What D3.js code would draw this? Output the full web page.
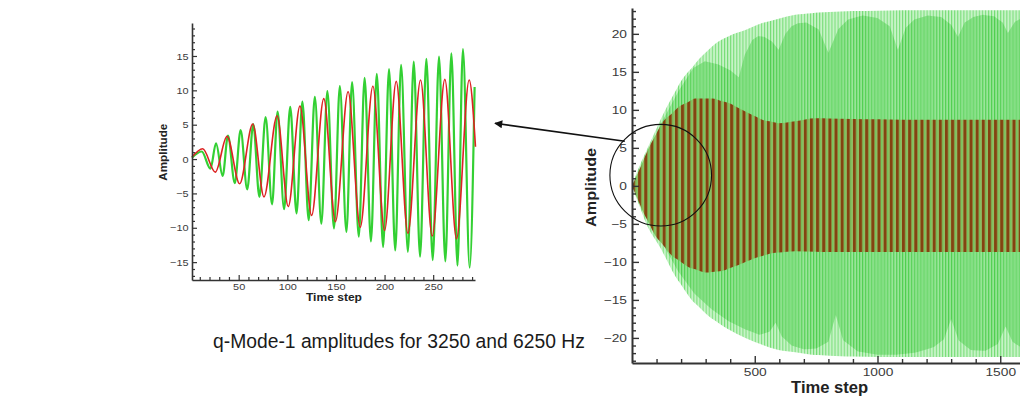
<!DOCTYPE html>
<html>
<head>
<meta charset="utf-8">
<script src="https://cdn.jsdelivr.net/npm/d3@7"></script>
<style>
  html, body { margin: 0; padding: 0; background: #fff; }
  svg { display: block; font-family: Arial, "Liberation Sans", Helvetica, sans-serif; }
</style>
</head>
<body>
<svg id="fig" width="1020" height="402"></svg>
<script>
// ---------- zoomed view: first 293 time steps (turning points of each mode) ----------
const zoomRedT   = [2, 13, 26, 38, 51, 64.5, 76, 89.5, 101, 113, 125, 137.5, 149.5, 162.5, 175, 188, 200, 212, 224, 237, 249, 262, 274, 287, 293.5];
const zoomRedV   = [0.3, 1.5, -1.9, 3.3, -3.6, 5.1, -5.5, 6.3, -6.9, 7.7, -8.2, 8.8, -9.1, 9.8, -9.9, 10.6, -10.4, 11.3, -10.8, 11.5, -11.2, 11.6, -11.6, 11.5, 1.8];
const zoomGreenT = [2, 12, 21, 26.7, 33.5, 39, 46, 52, 58.8, 65, 71.3, 77.7, 84.3, 90, 96.7, 103, 109.5, 115.5, 122, 128.3, 135, 141.2, 148, 154, 160.8, 166.6, 173.5, 179.5, 186, 192, 198.5, 204.6, 211, 217, 224, 230, 236.5, 243, 249.5, 256, 262.5, 268.7, 275, 280.6, 287.5, 292.6];
const zoomGreenV = [0.2, 1.1, -1.4, 2.3, -2.45, 3.4, -3.5, 4.2, -4.4, 5.1, -5.5, 6.1, -6.6, 6.9, -7.3, 7.6, -7.9, 8.35, -8.9, 9.05, -9.4, 9.9, -10.1, 10.6, -10.6, 11.2, -11.3, 11.8, -12.0, 12.4, -12.8, 13.1, -13.3, 13.7, -13.5, 14.2, -14.2, 14.6, -14.7, 14.9, -14.9, 15.4, -15.5, 16.0, -15.8, 10.5];
const zoomXTicks = [50, 100, 150, 200, 250];
const zoomYTicks = [-15, -10, -5, 0, 5, 10, 15];

// ---------- full run: envelopes of the two modes ----------
// 6250 Hz mode (green): outer reach of the peaks
const greenTopT = [0, 41, 122, 191, 258, 325, 394, 462, 528, 597, 665, 760, 900, 1100, 1300, 1600];
const greenTopV = [0, 3.4, 9.1, 13.3, 16.1, 18.3, 19.7, 20.5, 21.4, 22.0, 22.5, 22.8, 23.0, 23.1, 23.1, 23.1];
const greenBotT = [0, 52, 120, 187, 255, 323, 394, 462, 530, 597, 732, 850, 1000, 1200, 1400, 1600];
const greenBotV = [0, -4.5, -8.4, -12.4, -15.4, -17.4, -18.9, -20.0, -20.9, -21.6, -22.2, -22.4, -22.5, -22.5, -22.5, -22.5];
// 6250 Hz mode: reach of the dense (every-cycle) peaks, showing the beating
const greenBeatTopT = [0, 60, 120, 190, 250, 297, 350, 400, 435, 460, 490, 513, 540, 570, 597, 625, 650, 676, 710, 760, 800, 840, 880, 940, 1000, 1050, 1083, 1115, 1150, 1205, 1260, 1300, 1328, 1355, 1390, 1430, 1475, 1510, 1531, 1560, 1600];
const greenBeatTopV = [0, 4, 8.3, 12.5, 15.5, 16.4, 16.0, 15.2, 14.3, 17.3, 19.2, 19.7, 19.6, 19.0, 17.9, 20.0, 21.0, 21.4, 21.5, 20.6, 17.5, 20.6, 21.9, 22.4, 22.1, 21.0, 17.9, 20.8, 21.9, 22.4, 22.2, 21.2, 19.6, 21.5, 22.2, 22.5, 22.3, 21.5, 20.1, 21.6, 22.3];
const greenBeatBotT = [0, 52, 120, 187, 255, 323, 394, 462, 520, 560, 585, 610, 650, 700, 750, 800, 830, 860, 920, 1000, 1080, 1160, 1230, 1270, 1300, 1330, 1380, 1440, 1490, 1522, 1550, 1600];
const greenBeatBotV = [0, -3.5, -7.3, -11.2, -14.2, -16.2, -17.8, -18.9, -19.6, -19.2, -18.0, -19.8, -21.0, -21.5, -21.4, -20.5, -17.0, -20.3, -21.8, -22.2, -22.2, -21.9, -21.2, -20.2, -17.5, -20.3, -21.6, -21.7, -20.8, -18.5, -20.5, -21.6];
// 3250 Hz mode (red)
const redTopT = [0, 24, 69, 123, 191, 258, 326, 394, 462, 530, 597, 665, 747, 900, 1100, 1300, 1600];
const redTopV = [0, 1.7, 5.0, 8.3, 10.4, 11.5, 11.5, 10.9, 9.8, 8.7, 8.25, 8.5, 8.9, 8.8, 8.7, 8.7, 8.7];
const redBotT = [0, 42, 96, 163, 231, 299, 367, 434, 502, 570, 665, 800, 1000, 1200, 1400, 1600];
const redBotV = [0, -3.2, -6.6, -9.2, -10.7, -11.4, -11.2, -10.4, -9.5, -8.85, -8.6, -8.7, -8.7, -8.7, -8.7, -8.7];
// oscillation periods in time steps
const greenPeriod = 12.5;
const redPeriod = 25;
const fullXTicks = [500, 1000, 1500];
const fullYTicks = [-20, -15, -10, -5, 0, 5, 10, 15, 20];

const caption = "q-Mode-1 amplitudes for 3250 and 6250 Hz";

// ---------- helpers ----------
const svg = d3.select("#fig");
const defs = svg.append("defs");
const pts = (T, V) => T.map((t, i) => ({ t, v: V[i] }));
const range = (a, b, s) => d3.range(a, b + s / 2, s);

function drawAxes(g, x, y, o) {
  const [x0] = x.range();
  const [yb] = y.range();
  // minor ticks
  g.append("g").attr("transform", `translate(0,${yb})`)
    .call(d3.axisBottom(x).tickValues(o.xMinor).tickSize(-o.minor).tickSizeOuter(0).tickFormat(""))
    .call(s => s.select(".domain").remove());
  g.append("g").attr("transform", `translate(${x0},0)`)
    .call(d3.axisLeft(y).tickValues(o.yMinor).tickSize(-o.minor).tickSizeOuter(0).tickFormat(""))
    .call(s => s.select(".domain").remove());
  // major ticks with labels
  const ax = g.append("g").attr("transform", `translate(0,${yb})`)
    .call(d3.axisBottom(x).tickValues(o.xMajor).tickFormat(d3.format("d"))
      .tickSize(-o.major).tickSizeOuter(0).tickPadding(o.xPad));
  const ay = g.append("g").attr("transform", `translate(${x0},0)`)
    .call(d3.axisLeft(y).tickValues(o.yMajor).tickFormat(d3.format("d"))
      .tickSize(-o.major).tickSizeOuter(0).tickPadding(o.yPad));
  [ax, ay].forEach(a => {
    a.selectAll("text").attr("font-size", o.font).attr("fill", "#3a3a3a")
      .attr("font-family", "Arial, 'Liberation Sans', sans-serif")
      .attr("transform", `scale(${o.stretch},1)`);
  });
  g.selectAll(".tick line").attr("stroke", "#333").attr("stroke-width", o.tickW);
  g.selectAll(".domain").attr("stroke", "#333").attr("stroke-width", o.axisW);
}

// ---------- left panel: zoomed time history ----------
const xL = d3.scaleLinear().domain([2, 293]).range([192, 475]);
const yL = d3.scaleLinear().domain([-17.6, 19.8]).range([280, 23]);
const gL = svg.append("g");

const lineL = d3.line().x(d => xL(d.t)).y(d => yL(d.v)).curve(d3.curveMonotoneX);
gL.append("path").datum(pts(zoomGreenT, zoomGreenV))
  .attr("d", lineL).attr("fill", "none").attr("stroke", "#33d033").attr("stroke-width", 2.2);
gL.append("path").datum(pts(zoomRedT, zoomRedV))
  .attr("d", lineL).attr("fill", "none").attr("stroke", "#dc2323").attr("stroke-width", 1.6);

drawAxes(gL, xL, yL, {
  xMajor: zoomXTicks, yMajor: zoomYTicks,
  xMinor: range(10, 290, 10).filter(v => v % 50), yMinor: range(-17, 19, 1).filter(v => v % 5),
  major: 5, minor: 3, xPad: 3, yPad: 3, font: 9.5, stretch: 1.15, tickW: 1.2, axisW: 1.6
});
gL.append("text").attr("transform", `translate(${xL(2) - 25},${yL(1)}) rotate(-90)`)
  .attr("text-anchor", "middle").attr("font-weight", "bold").attr("font-size", 11.5)
  .attr("textLength", 57).attr("lengthAdjust", "spacingAndGlyphs").attr("fill", "#222")
  .text("Amplitude");
gL.append("text").attr("x", xL(148)).attr("y", 301)
  .attr("text-anchor", "middle").attr("font-weight", "bold").attr("font-size", 11)
  .attr("textLength", 56).attr("lengthAdjust", "spacingAndGlyphs").attr("fill", "#222")
  .text("Time step");

// ---------- right panel: full time history ----------
const xR = d3.scaleLinear().domain([0, 1600]).range([632, 632 + 1600 * 0.2455]);
const yR = d3.scaleLinear().domain([-23.3, 23.4]).range([363, 8]);
const gR = svg.append("g");

// vertical stripe fills whose spacing follows each mode's period
const pG = xR(greenPeriod) - xR(0);
const pR = xR(redPeriod) - xR(0);
function stripes(id, w, bg, bars) {
  const p = defs.append("pattern").attr("id", id).attr("patternUnits", "userSpaceOnUse")
    .attr("x", xR(0)).attr("y", 0).attr("width", w).attr("height", 20);
  p.append("rect").attr("width", w).attr("height", 20).attr("fill", bg);
  bars.forEach(b => p.append("rect").attr("x", b.x * w).attr("width", b.w).attr("height", 20).attr("fill", b.c));
}
stripes("greenSparse", pG, "#c6f3c6", [{ x: 0, w: 1, c: "#74dc74" }]);
stripes("greenDense", pG, "#9ce69c", [{ x: 0, w: 1, c: "#4fcf4f" }, { x: 0.5, w: 0.6, c: "#7cdc7c" }]);
stripes("redBars", pR, "#93bb62", [{ x: 0, w: 3.0, c: "#844311" }, { x: 0.62, w: 0.8, c: "#62cc5a" }]);

function band(topT, topV, botT, botV) {
  const top = pts(topT, topV), bot = pts(botT, botV);
  const all = Array.from(new Set([...topT, ...botT])).sort((a, b) => a - b);
  const interp = (P, t) => {
    const i = d3.bisector(d => d.t).left(P, t);
    if (i <= 0) return P[0].v;
    if (i >= P.length) return P[P.length - 1].v;
    const a = P[i - 1], b = P[i];
    return a.v + (b.v - a.v) * (t - a.t) / (b.t - a.t);
  };
  return all.map(t => ({ t, hi: interp(top, t), lo: interp(bot, t) }));
}
const areaSmooth = d3.area().x(d => xR(d.t)).y0(d => yR(d.lo)).y1(d => yR(d.hi)).curve(d3.curveMonotoneX);
const areaSharp = d3.area().x(d => xR(d.t)).y0(d => yR(d.lo)).y1(d => yR(d.hi));

gR.append("path").datum(band(greenTopT, greenTopV, greenBotT, greenBotV))
  .attr("d", areaSmooth).attr("fill", "url(#greenSparse)");
gR.append("path").datum(band(greenBeatTopT, greenBeatTopV, greenBeatBotT, greenBeatBotV))
  .attr("d", areaSharp).attr("fill", "url(#greenDense)");
gR.append("path").datum(band(redTopT, redTopV, redBotT, redBotV))
  .attr("d", areaSmooth).attr("fill", "url(#redBars)");

drawAxes(gR, xR, yR, {
  xMajor: fullXTicks, yMajor: fullYTicks,
  xMinor: range(100, 1600, 100).filter(v => v % 500), yMinor: range(-23, 23, 1).filter(v => v % 5),
  major: 7, minor: 4, xPad: 5, yPad: 4, font: 11, stretch: 1.25, tickW: 1.4, axisW: 2
});
gR.append("text").attr("transform", `translate(${xR(0) - 36},${yR(-0.2)}) rotate(-90)`)
  .attr("text-anchor", "middle").attr("font-weight", "bold").attr("font-size", 14)
  .attr("textLength", 79).attr("lengthAdjust", "spacingAndGlyphs").attr("fill", "#222")
  .text("Amplitude");
gR.append("text").attr("x", xR(805)).attr("y", 393)
  .attr("text-anchor", "middle").attr("font-weight", "bold").attr("font-size", 16)
  .attr("textLength", 77).attr("lengthAdjust", "spacingAndGlyphs").attr("fill", "#222")
  .text("Time step");

// ---------- annotation: circled region and arrow to the zoomed panel ----------
const cx = xR(117), cy = yR(1.4), r = xR(207) - xR(0);
svg.append("circle").attr("cx", cx).attr("cy", cy).attr("r", r)
  .attr("fill", "none").attr("stroke", "#111").attr("stroke-width", 1.1);
defs.append("marker").attr("id", "head").attr("viewBox", "0 0 10 10")
  .attr("refX", 9).attr("refY", 5).attr("markerWidth", 11).attr("markerHeight", 8)
  .attr("markerUnits", "userSpaceOnUse").attr("orient", "auto")
  .append("path").attr("d", "M0,0 L10,5 L0,10 Z").attr("fill", "#111");
const tipX = xL(293) + 20, tipY = yL(5.2);
const startAng = -0.75 * Math.PI;   // upper-left rim of the circle
svg.append("line")
  .attr("x1", cx + r * Math.cos(startAng)).attr("y1", cy + r * Math.sin(startAng) + 2)
  .attr("x2", tipX).attr("y2", tipY)
  .attr("stroke", "#111").attr("stroke-width", 1.6).attr("marker-end", "url(#head)");

// ---------- caption ----------
svg.append("text").attr("x", 213).attr("y", 348).attr("font-size", 19.3).attr("fill", "#1a1a1a")
  .text(caption);
</script>
</body>
</html>
